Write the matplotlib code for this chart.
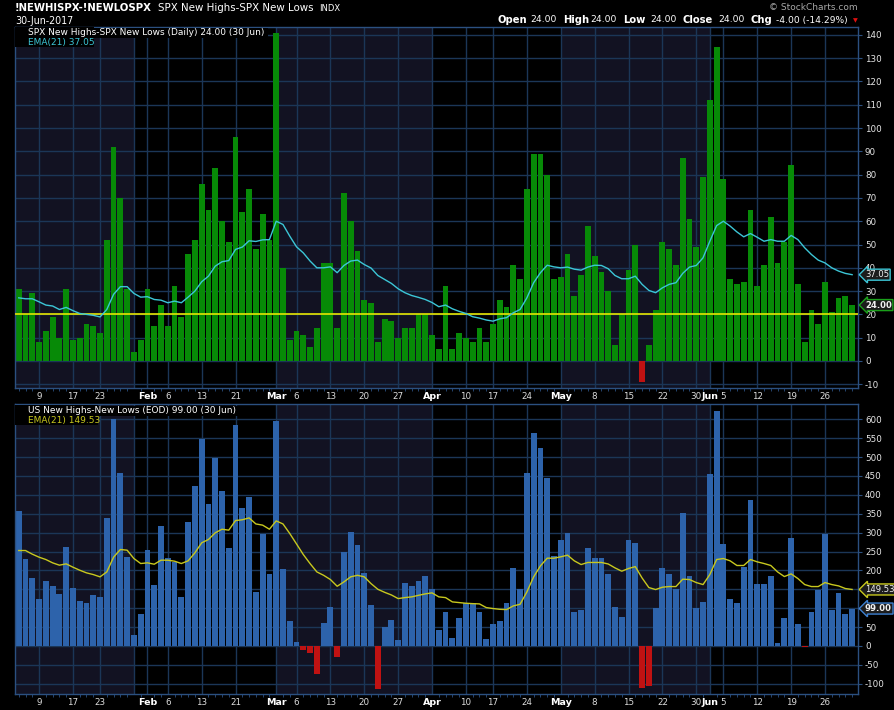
import numpy as np
import pandas as pd
import matplotlib
matplotlib.use('Agg')
import matplotlib.pyplot as plt
from matplotlib.patches import Rectangle
from matplotlib.lines import Line2D

# trading days Jan 4 - Jun 30 2017
holidays = ['2017-01-16', '2017-02-20', '2017-04-14', '2017-05-29']
dates = pd.bdate_range('2017-01-04', '2017-06-30')
dates = dates[~dates.isin(pd.to_datetime(holidays))]

spx_hl = [31, 20, 29, 8, 13, 19, 10, 31, 9, 10, 16, 15, 12, 52, 92, 70, 31, 4, 9,
          31, 15, 24, 15, 32, 19, 46, 52, 76, 65, 83, 60, 51, 96, 64, 74, 48, 63, 52,
          141, 40, 9, 13, 11, 6, 14, 42, 42, 14, 72, 60, 47, 26, 25, 8, 18, 17, 10, 14, 14, 20, 20,
          11, 5, 32, 5, 12, 10, 8, 14, 8, 16, 26, 23, 41, 35, 74, 89, 89, 80, 35,
          36, 46, 28, 37, 58, 45, 38, 30, 7, 20, 39, 50, -9, 7, 22, 51, 48, 41, 87, 61, 49, 79,
          112, 135, 78, 35, 33, 34, 65, 32, 41, 62, 42, 51, 84, 33, 8, 22, 16, 34, 21, 27, 28, 24]

spx_ema = [27.1, 26.7, 26.7, 25.4, 24, 23.6, 22.1, 23, 21.6, 20.4, 20, 19.6, 18.9, 22.1, 28.6,
           31.9, 31.9, 29, 27.4, 27.6, 26.4, 26.1, 25, 25.7, 25, 27.4, 30, 34, 36.4, 40.7,
           42.6, 43.1, 47.9, 48.9, 51.6, 51.3, 52, 52.1, 60, 58.6, 53.6, 49,
           46.4, 42.9, 40, 40, 40.4, 37.9, 41, 42.9, 43.3, 41.4, 39.9, 36.7, 35, 33.3, 31,
           29.3, 28.1, 27.3, 26.4, 25.1, 23.3, 24, 22.4, 21.3, 20.4, 19, 18.4, 17.6, 17.1,
           18.1, 18.6, 20.7, 22.1, 27.1, 33.6, 37.9, 41.1, 40.4, 40, 40.3, 39.4, 39, 40.3,
           41.1, 41, 39.6, 36.7, 35.3, 35.3, 36.4, 32.9, 30.3, 29.3, 31.4, 32.9, 33.6, 37.6,
           40.3, 41, 44.3, 51.4, 58.1, 60, 57.9, 55.4, 53.3, 54.7, 53.1, 51.4, 52.1, 51.4,
           51.4, 53.9, 52.1, 48.6, 45.7, 43.3, 42.1, 40, 38.6, 37.6, 37.05]

us_hl = [357, 230, 179, 124, 171, 158, 137, 261, 153, 118, 113, 134, 129, 338, 600, 458, 235, 28, 84,
         254, 161, 317, 232, 222, 129, 328, 423, 548, 375, 497, 410, 259, 585, 365, 394, 142, 296, 190,
         595, 203, 65, 10, -11, -19, -74, 60, 103, -29, 248, 301, 267, 193, 108, -114, 50, 68, 15,
         166, 158, 171, 185,
         150, 42, 89, 20, 73, 113, 113, 89, 18, 57, 65, 113, 206, 150, 458, 564, 524, 444, 238,
         280, 299, 89, 95, 259, 232, 232, 190, 103, 76, 280, 272, -111, -106, 100, 206, 190, 150,
         352, 185, 100, 116,
         455, 622, 269, 124, 113, 209, 386, 163, 163, 185, 7, 73, 285, 57, -2, 89, 148, 296, 95,
         140, 84, 99]

us_ema = [252.6, 252.6, 243, 235, 228.8, 220, 213.8, 217.3, 208.5, 200.5, 193.5, 189, 182.9, 196,
          235, 255.3, 253.5, 231.4, 218.2, 220, 216.4, 227, 227, 224.4, 218.2, 225.3, 246.5, 273,
          281.8, 299.5, 309, 306.5, 332, 334, 339, 323, 319.8, 309, 331, 323, 297.7, 270,
          242, 218, 196, 187, 175.8, 158, 169.6, 183, 187, 183, 165, 150, 142, 135, 125.4, 128,
          129.9, 134, 137.8, 140.5, 129.9, 128, 116.6, 114.8, 113, 112, 111.3, 101.6, 99, 97,
          96.3, 106, 110.4, 143, 182.9, 212, 232.3, 232.3, 235.9, 240.3, 225.3, 215.5, 221,
          221, 221, 217, 206.7, 197.9, 205, 210, 180, 154.6, 149.3, 155.5, 157.2, 157.2, 176.7,
          175.8, 167.8, 162.5, 189, 228.8, 231.4, 225.3, 213, 213, 228.8, 222.6, 218.2, 213,
          196, 183.7, 190.8, 178.4, 162.5, 157.2, 157.2, 167.8, 162.5, 159, 152, 149.53]

tick_dates = ['2017-01-09', '2017-01-17', '2017-01-23', '2017-01-30', '2017-02-01', '2017-02-06',
              '2017-02-13', '2017-02-21', '2017-03-01', '2017-03-06', '2017-03-13', '2017-03-20',
              '2017-03-27', '2017-04-03', '2017-04-10', '2017-04-17', '2017-04-24', '2017-05-01',
              '2017-05-08', '2017-05-15', '2017-05-22', '2017-05-30', '2017-06-01', '2017-06-05',
              '2017-06-12', '2017-06-19', '2017-06-26']
tick_labels = ['9', '17', '23', '', 'Feb', '6', '13', '21', 'Mar', '6', '13', '20', '27', 'Apr',
               '10', '17', '24', 'May', '8', '15', '22', '30', 'Jun', '5', '12', '19', '26']
months = ['Feb', 'Mar', 'Apr', 'May', 'Jun']
shade = [(None, '2017-01-30'), ('2017-03-01', '2017-04-03'), ('2017-05-01', '2017-06-01')]

NAVY = '#121222'
GRID = '#1b3657'
SPINE = '#2b5080'
GREEN = '#078a07'
RED = '#c01212'
BLUE = '#2d63ab'
CYAN = '#3cc6d6'
YEL = '#c8c81e'

pos = {d: i for i, d in enumerate(dates)}
def p(d):
    return pos[pd.Timestamp(d)]

x = np.arange(len(dates))
tick_pos = [p(d) for d in tick_dates]

fig = plt.figure(figsize=(8.95, 7.1), dpi=100, facecolor='black')
def fx(px): return px / 895
def fy(py): return 1 - py / 710

ax1 = fig.add_axes([fx(15), fy(388), fx(858) - fx(15), fy(26.7) - fy(388)])
ax2 = fig.add_axes([fx(15), fy(694.3), fx(858) - fx(15), fy(404.3) - fy(694.3)])


def style_panel(ax, ylim, yticks, hidden=()):
    ax.set_facecolor('black')
    ax.set_xlim(-0.55, len(dates) - 0.13)
    ax.set_ylim(*ylim)
    for a, b in shade:
        a = -1 if a is None else p(a)
        ax.axvspan(a, p(b), color=NAVY, lw=0, zorder=0)
    for yv in yticks:
        ax.axhline(yv, color=GRID, lw=1, zorder=1)
    for xv in tick_pos:
        ax.axvline(xv, color=GRID, lw=1, zorder=1)
    ax.yaxis.tick_right()
    ax.set_yticks(yticks)
    # labels hidden under the value tags
    ax.set_yticklabels(['' if v in hidden else str(v) for v in yticks])
    ax.tick_params(axis='y', colors='#e6e6e6', labelsize=6.3, length=3, width=0.8, pad=2)
    ax.tick_params(axis='y', color=SPINE)
    ax.set_xticks(tick_pos)
    ax.set_xticklabels(tick_labels)
    ax.set_xticks(x, minor=True)
    ax.tick_params(axis='x', which='major', length=0, pad=3, labelsize=6.3, colors='#dcdcdc')
    ax.tick_params(axis='x', which='minor', length=2, color=SPINE, width=0.6)
    for lab in ax.get_xticklabels():
        if lab.get_text() in months:
            lab.set_fontweight('bold')
            lab.set_color('white')
            lab.set_fontsize(6.8)
    for s in ax.spines.values():
        s.set_color(SPINE)
        s.set_linewidth(1)


style_panel(ax1, (-11.6, 143.5), list(range(-10, 141, 10)))
style_panel(ax2, (-128, 639.7), list(range(-100, 601, 50)), hidden=(100, 150))

v1 = np.array(spx_hl)
ax1.bar(x, v1, width=0.86, color=np.where(v1 >= 0, GREEN, RED), zorder=2)
ax1.axhline(20, color='#e6e600', lw=1.2, zorder=3)
ax1.plot(x, spx_ema, color=CYAN, lw=1, zorder=4)

v2 = np.array(us_hl)
ax2.bar(x, v2, width=0.86, color=np.where(v2 >= 0, BLUE, RED), zorder=2)
ax2.plot(x, us_ema, color=YEL, lw=1, zorder=4)


def tag(ax, val, txt, ec, bold=False):
    ax.annotate(txt, xy=(1, val), xycoords=ax.get_yaxis_transform(), xytext=(7, 0),
                textcoords='offset pixels', ha='left', va='center', fontsize=6.1,
                color='#f0f0f0', fontweight='bold' if bold else 'normal',
                annotation_clip=False, zorder=10,
                bbox=dict(boxstyle='larrow,pad=0.12', fc='#1c1c1c', ec=ec, lw=1))


tag(ax1, spx_ema[-1], '%.2f' % spx_ema[-1], CYAN)
tag(ax1, spx_hl[-1], '%.2f' % spx_hl[-1], '#1aa01a', bold=True)
tag(ax2, us_ema[-1], '%.2f' % us_ema[-1], YEL)
tag(ax2, us_hl[-1], '%.2f' % us_hl[-1], '#3d80d0', bold=True)


# legends
def icon(x0, ytop, color):
    for dx, h in [(0, 4), (3, 7), (6, 5)]:
        fig.add_artist(Rectangle((fx(x0 + dx), fy(ytop + 7)), fx(2.2), h / 710,
                                 transform=fig.transFigure, color=color, lw=0))

fig.add_artist(Rectangle((fx(15.5), fy(47)), fx(78), 20 / 710, transform=fig.transFigure,
                         color='black', lw=0, zorder=5))
fig.add_artist(Rectangle((fx(15.5), fy(37.5)), fx(253), 10 / 710, transform=fig.transFigure,
                         color='black', lw=0, zorder=5))
icon(18, 29, GREEN)
fig.text(fx(28), fy(32.5), 'SPX New Highs-SPX New Lows (Daily) 24.00 (30 Jun)', fontsize=6.5,
         color='white', va='center', zorder=6)
fig.add_artist(Line2D([fx(18), fx(26)], [fy(42.5), fy(42.5)], color=CYAN, lw=2))
fig.text(fx(28), fy(42.5), 'EMA(21) 37.05', fontsize=6.5, color=CYAN, va='center', zorder=6)

fig.add_artist(Rectangle((fx(15.5), fy(425)), fx(83), 20 / 710, transform=fig.transFigure,
                         color='black', lw=0, zorder=5))
fig.add_artist(Rectangle((fx(15.5), fy(415.5)), fx(226), 10 / 710, transform=fig.transFigure,
                         color='black', lw=0, zorder=5))
icon(18, 407, '#3d7dd0')
fig.text(fx(28), fy(410.5), 'US New Highs-New Lows (EOD) 99.00 (30 Jun)', fontsize=6.5,
         color='white', va='center', zorder=6)
fig.add_artist(Line2D([fx(18), fx(26)], [fy(420.5), fy(420.5)], color=YEL, lw=2))
fig.text(fx(28), fy(420.5), 'EMA(21) 149.53', fontsize=6.5, color=YEL, va='center', zorder=6)

# header
fig.text(fx(15), fy(8), '!NEWHISPX-!NEWLOSPX', fontsize=7.3, fontweight='bold', color='white',
         va='center')
fig.text(fx(158), fy(8), 'SPX New Highs-SPX New Lows', fontsize=7.4, color='white', va='center')
fig.text(fx(319), fy(8.5), 'INDX', fontsize=6, color='white', va='center')
fig.text(fx(15), fy(20.5), '30-Jun-2017', fontsize=6.85, color='white', va='center')
fig.text(fx(858), fy(8), '\u00a9 StockCharts.com', fontsize=6.5, color='#a8a8a8', va='center',
         ha='right')

hdr = [(498, 'Open', True), (530, '24.00', False), (563, 'High', True), (590, '24.00', False),
       (623, 'Low', True), (650, '24.00', False), (683, 'Close', True), (718, '24.00', False),
       (751, 'Chg', True), (776, '-4.00 (-14.29%)', False)]
for px, t, b in hdr:
    fig.text(fx(px), fy(20), t, fontsize=7.2 if b else 6.6, fontweight='bold' if b else 'normal',
             color='white', va='center')
fig.text(fx(855), fy(21), '\u25bc', fontsize=4.5, color='#e01010', va='center', ha='center')

fig.savefig('out.png', dpi=100, facecolor='black')
